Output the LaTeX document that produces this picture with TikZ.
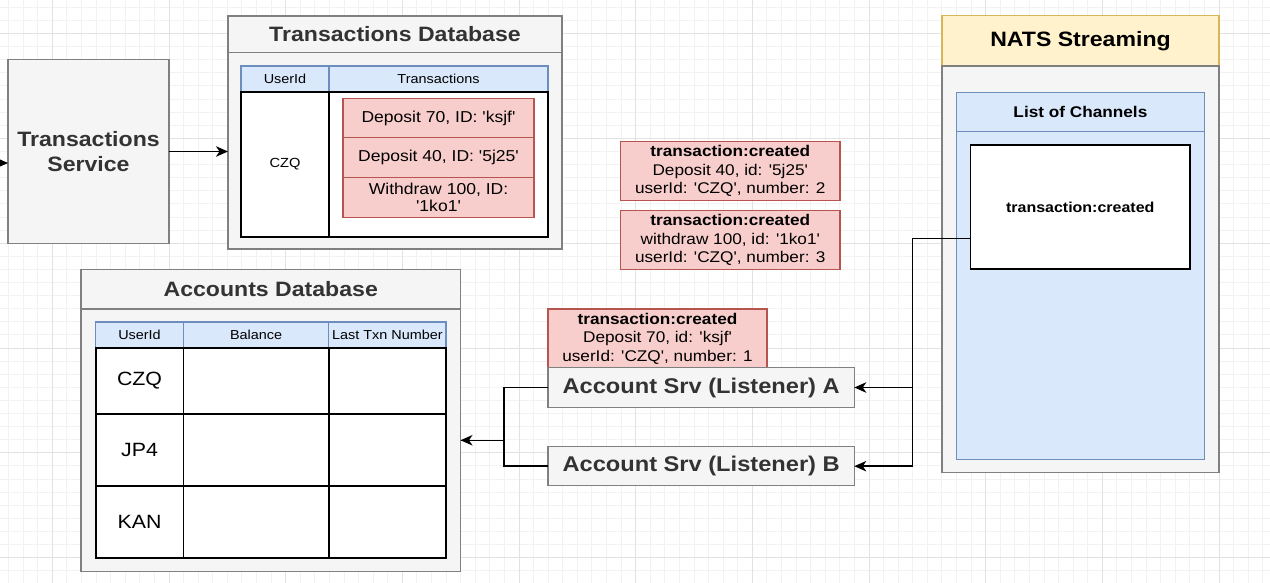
\documentclass[tikz,border=0pt]{standalone}
\usepackage{fontspec}
\setmainfont{Liberation Sans}[FakeStretch=1.11, Ligatures=TeXOff]
\usetikzlibrary{positioning,arrows.meta}
\definecolor{grayfill}{HTML}{F5F5F5}
\definecolor{grayline}{HTML}{808080}
\definecolor{graytext}{HTML}{333333}
\definecolor{bluefill}{HTML}{DAE8FC}
\definecolor{blueline}{HTML}{6C8EBF}
\definecolor{redfill}{HTML}{F8CECC}
\definecolor{redline}{HTML}{B85450}
\definecolor{yellowfill}{HTML}{FFF2CC}
\definecolor{yellowline}{HTML}{D6B656}
\definecolor{gridminor}{HTML}{F2F2F2}
\definecolor{gridmajor}{HTML}{E2E2E2}

\begin{document}
\begin{tikzpicture}[x=1pt, y=-1pt, >={Stealth[length=12pt,width=10.5pt,inset=3.5pt]},
  wh/.style 2 args = {minimum width=#1, minimum height=#2},
  main/.style = {draw=grayline, fill=grayfill, text=graytext, rectangle, line width=1.3pt, inner sep=0pt, outer sep=0pt, anchor=north west},
  hdr/.style = {main, draw=blueline, fill=bluefill, text=black},
  cell/.style = {main, draw=black, fill=white, text=black, line width=1.8pt},
  evt/.style = {main, draw=redline, fill=redfill, text=black, align=center, font=\fontsize{15.5}{18.5}\selectfont},
  ttl/.style = {font=\bfseries\fontsize{20.8}{25}\selectfont},
  small/.style = {font=\fontsize{13}{15}\selectfont},
  big/.style = {font=\fontsize{19.2}{22}\selectfont},
  link/.style = {line width=1.5pt, black},
  minor/.style = {draw=gridminor, line width=0.8pt},
  major/.style = {draw=gridmajor, line width=0.8pt}]

\useasboundingbox (0,0) rectangle (1270,583);
\fill[white] (0,0) rectangle (1270,583);

% grid
\foreach \i in {0,...,86} \draw[minor] ({8.55+14.583*\i},0) -- ++(0,583);
\foreach \j in {0,...,44} \draw[minor] (0,{7.3+13.1*\j}) -- ++(1270,0);
\foreach \i in {1,...,11} \draw[major] ({-64.37+116.67*\i},0) -- ++(0,583);
\foreach \j in {0,...,5} \draw[major] (0,{33.5+104.8*\j}) -- ++(1270,0);

% transactions service
\node[main, ttl, wh={161}{184}, align=center] (1) at (8,59.5) {Transactions\\Service};

% transactions database
\node[main, ttl, wh={334}{36.5}] (2) at (228,16) {Transactions Database};
\node[main, wh={334}{196.5}] (3) [below=0pt of 2] {};
\node[hdr, small, wh={88}{26}] (4) at (241,66) {UserId};
\node[hdr, small, wh={219}{26}] (5) [right=0pt of 4] {Transactions};
\node[cell, font=\fontsize{13.2}{15}\selectfont, wh={88}{144.7}] (6) [below=0pt of 4] {CZQ};
\node[cell, wh={219}{144.7}] (7) [right=0pt of 6] {};
\node[evt, font=\fontsize{15.8}{17}\selectfont, wh={191}{39}] (8) at (343,98.7) {Deposit 70, ID: 'ksjf'};
\node[evt, font=\fontsize{15.8}{17}\selectfont, wh={191}{39.6}] (9) [below=0pt of 8] {Deposit 40, ID: '5j25'};
\node[evt, font=\fontsize{15.8}{17}\selectfont, wh={191}{40}] (10) [below=0pt of 9] {Withdraw 100, ID:\\'1ko1'};

% accounts database
\node[main, ttl, wh={379.5}{39.5}] (11) at (81,269.5) {Accounts Database};
\node[main, wh={379.5}{262.5}] (12) [below=0pt of 11] {};
\node[hdr, small, wh={87.8}{25.7}] (13) at (95.6,322) {UserId};
\node[hdr, small, wh={145.4}{25.7}] (14) [right=0pt of 13] {Balance};
\node[hdr, small, wh={117.2}{25.7}] (15) [right=0pt of 14] {Last Txn Number};
\node[cell, big, wh={87.8}{66.3}] (16) [below=0pt of 13] {CZQ};
\node[cell, wh={145.4}{66.3}] (17) [right=0pt of 16] {};
\node[cell, wh={117.2}{66.3}] (18) [right=0pt of 17] {};
\node[cell, big, wh={87.8}{72.3}] (19) [below=0pt of 16] {JP4};
\node[cell, wh={145.4}{72.3}] (20) [right=0pt of 19] {};
\node[cell, wh={117.2}{72.3}] (21) [right=0pt of 20] {};
\node[cell, big, wh={87.8}{72}] (22) [below=0pt of 19] {KAN};
\node[cell, wh={145.4}{72}] (23) [right=0pt of 22] {};
\node[cell, wh={117.2}{72}] (24) [right=0pt of 23] {};

% events
\node[evt, wh={219.5}{59}] (25) at (620.5,141.7) {\textbf{transaction:created}\\Deposit 40, id: '5j25'\\userId: 'CZQ', number: 2};
\node[evt, wh={219.5}{58.6}] (26) at (620.5,210.7) {\textbf{transaction:created}\\withdraw 100, id: '1ko1'\\userId: 'CZQ', number: 3};
\node[evt, wh={219}{58.7}] (27) at (548,309) {\textbf{transaction:created}\\Deposit 70, id: 'ksjf'\\userId: 'CZQ', number: 1};

% nats streaming
\node[main, ttl, draw=yellowline, fill=yellowfill, text=black, wh={277}{50.3}] (28) at (942,15.7) {NATS Streaming};
\node[main, wh={277}{406.3}] (29) [below=0pt of 28] {};
\node[hdr, font=\bfseries\fontsize{15.5}{18}\selectfont, wh={248}{39.4}] (30) at (956.4,92.3) {List of Channels};
\node[hdr, wh={248}{327.6}] (31) [below=0pt of 30] {};
\node[cell, font=\bfseries\fontsize{14.4}{17}\selectfont, wh={219.5}{124.6}] (32) at (970.5,144.7) {transaction:created};

% listeners
\node[main, font=\bfseries\fontsize{21.3}{25}\selectfont, wh={306.3}{39.6}] (33) at (548,367.7) {Account Srv (Listener) A};
\node[main, font=\bfseries\fontsize{21.3}{25}\selectfont, wh={306.3}{39}] (34) at (548,446.7) {Account Srv (Listener) B};

% connectors
\coordinate (in) at (-3,163);
\draw[link, ->] (in) -- (in -| 1.west);
\draw[link, ->] (1.east) -- (1.east -| 3.west);
\draw[link, ->] ([yshift=-31.3pt]32.west) -- ++(-58.2,0) |- (33.east);
\draw[link, ->] ([yshift=-31.3pt]32.west) -- ++(-58.2,0) |- (34.east);
\draw[link, ->] (33.west) -- ++(-44,0) |- (12.east);
\draw[link] (34.west) -- ++(-44,0) |- (12.east);

\end{tikzpicture}
\end{document}
